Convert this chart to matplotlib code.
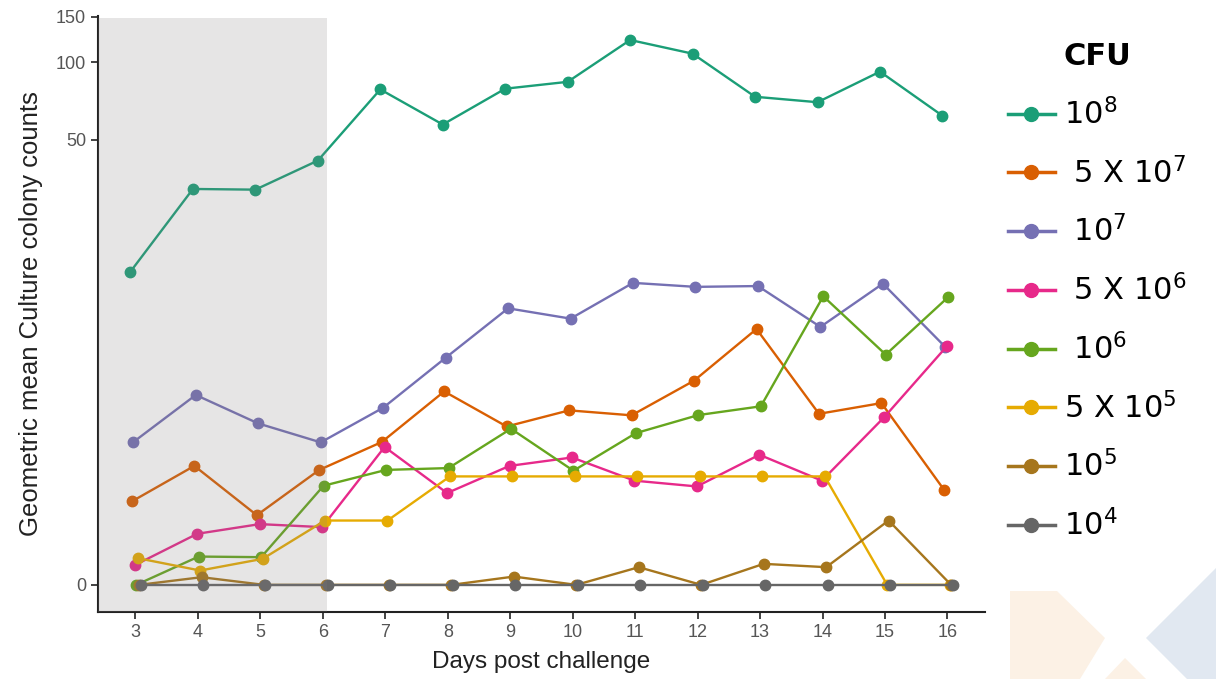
import numpy as np
import matplotlib
matplotlib.use("Agg")
import matplotlib.pyplot as plt
from matplotlib.patches import Rectangle, Polygon
from matplotlib.lines import Line2D

days = [3, 4, 5, 6, 7, 8, 9, 10, 11, 12, 13, 14, 15, 16]

cfu_1e8 = [14.9, 32.0, 31.8, 41.4, 78.5, 57.3, 79.0, 84.0, 122.0, 108.0, 73.5, 70.0, 92.0, 62.0]
cfu_5e7 = [1.09, 1.86, 0.85, 1.76, 2.53, 4.52, 3.05, 3.67, 3.47, 5.07, 8.58, 3.53, 3.98, 1.32]
cfu_1e7 = [2.53, 4.35, 3.16, 2.52, 3.78, 6.43, 10.5, 9.5, 13.4, 12.9, 13.0, 8.76, 13.3, 7.17]
cfu_5e6 = [0.19, 0.57, 0.71, 0.665, 2.38, 1.25, 1.86, 2.08, 1.51, 1.385, 2.155, 1.51, 3.40, 7.22]
cfu_1e6 = [0.0, 0.284, 0.277, 1.40, 1.76, 1.805, 2.97, 1.74, 2.82, 3.48, 3.84, 11.79, 6.64, 11.7]
cfu_5e5 = [0.266, 0.135, 0.258, 0.765, 0.765, 1.606, 1.606, 1.606, 1.606, 1.606, 1.606, 1.606, 0.0, 0.0]
cfu_1e5 = [0.0, 0.07, 0.0, 0.0, 0.0, 0.0, 0.076, 0.0, 0.169, 0.0, 0.204, 0.169, 0.765, 0.0]
cfu_1e4 = [0.0] * 14

series = [cfu_1e8, cfu_5e7, cfu_1e7, cfu_5e6, cfu_1e6, cfu_5e5, cfu_1e5, cfu_1e4]
labels = ["10$^{8}$", " 5 X 10$^{7}$", " 10$^{7}$", " 5 X 10$^{6}$",
          " 10$^{6}$", "5 X 10$^{5}$", "10$^{5}$", "10$^{4}$"]
colors = ["#1B9E77", "#D95F02", "#7570B3", "#E7298A",
          "#66A61E", "#E6AB02", "#A6761D", "#666666"]

ytick_vals = [0, 50, 100, 150]
xtick_vals = days

fig = plt.figure(figsize=(12.16, 6.79), dpi=100)
ax = fig.add_axes([0.0806, 0.0987, 0.7294, 0.8777])

fwd = lambda v: np.log10(np.maximum(v, -0.999) + 1)
inv = lambda t: 10 ** t - 1
ax.set_yscale("function", functions=(fwd, inv))

dodge = 0.023
for i, (vals, c, lab) in enumerate(zip(series, colors, labels)):
    xs = np.array(days) + (i - 3.5) * dodge
    ax.plot(xs, vals, color=c, lw=1.7, marker="o", ms=7.5, label=lab,
            solid_capstyle="round", zorder=3 + i * 0.01)

# shaded early period, drawn translucent on top like the original
ax.add_patch(Rectangle((2.4, -0.3), 6.06 - 2.4, 148 + 0.3,
                       facecolor="#827e80", alpha=0.2, edgecolor="none", zorder=5))

ax.set_xlim(2.4, 16.6)
ax.set_ylim(-0.213, 151)
ax.set_xticks(xtick_vals)
ax.set_yticks(ytick_vals)
ax.set_yticklabels([str(v) for v in ytick_vals])
ax.minorticks_off()

for s in ["top", "right"]:
    ax.spines[s].set_visible(False)
for s in ["left", "bottom"]:
    ax.spines[s].set_linewidth(1.5)
    ax.spines[s].set_color("#222222")
ax.tick_params(axis="both", colors="#222222", width=1.2, length=5,
               labelsize=13, labelcolor="#555555")

ax.set_xlabel("Days post challenge", fontsize=17.5, color="#222222",
              family="Liberation Sans", labelpad=7)
ax.set_ylabel("Geometric mean Culture colony counts", fontsize=18.5,
              color="#222222", family="Liberation Sans", labelpad=9)
for t in ax.get_xticklabels() + ax.get_yticklabels():
    t.set_family("Liberation Sans")

handles = [Line2D([0], [0], color=c, lw=2.5, marker="o", ms=10) for c in colors]
leg = fig.legend(handles, labels, loc="upper left",
                 bbox_to_anchor=(0.806, 0.978), frameon=False,
                 prop={"family": "DejaVu Sans", "size": 22},
                 handlelength=1.55, handletextpad=0.3, labelspacing=0.86,
                 title="CFU",
                 title_fontproperties={"family": "DejaVu Sans", "size": 22,
                                       "weight": "bold"})

# faint decorative shapes at the lower right
W, H = 1216.0, 679.0
def P(pts, col):
    fig.patches.append(Polygon([(x / W, 1 - y / H) for x, y in pts], closed=True,
                               transform=fig.transFigure, facecolor=col,
                               edgecolor="none", zorder=0))
P([(1010, 591), (1057, 591), (1105, 638), (1080, 679), (1010, 679)], "#FCF1E5")
P([(1105, 679), (1125, 658), (1146, 679)], "#FCF1E5")
P([(1146, 638), (1216, 568), (1216, 679), (1187, 679)], "#E1E8F1")

fig.savefig("out.png", dpi=100)
